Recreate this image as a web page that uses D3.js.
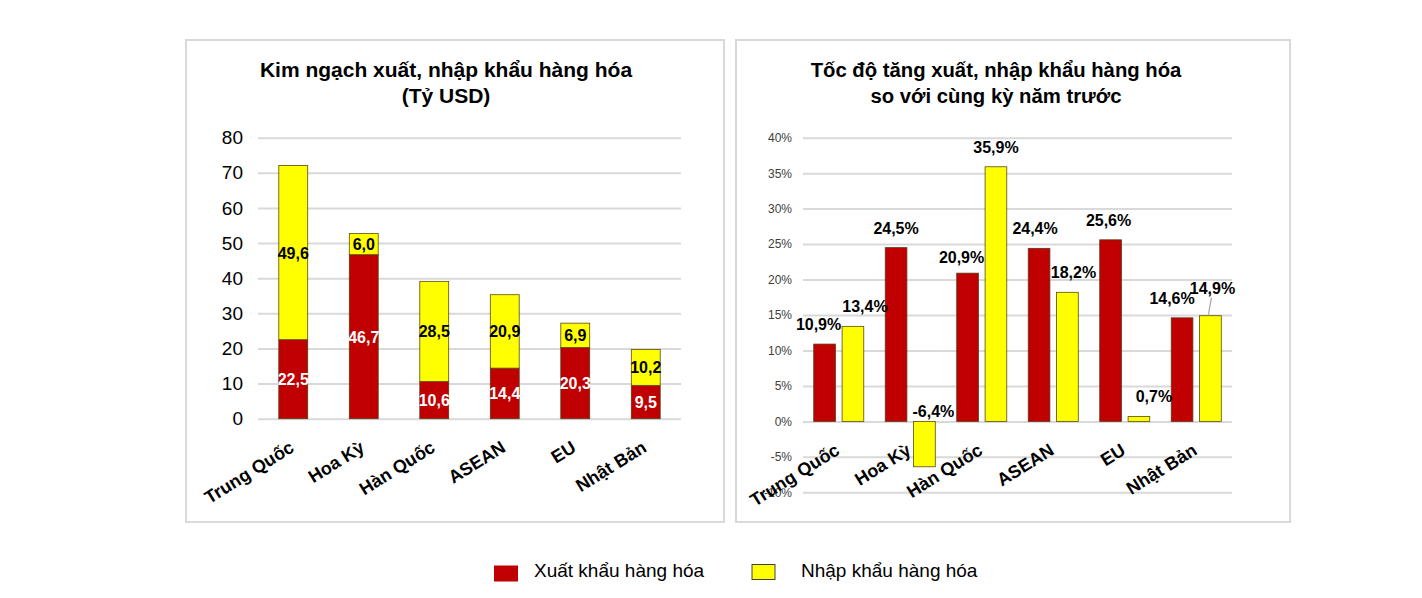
<!DOCTYPE html>
<html><head><meta charset="utf-8">
<script src="https://cdn.jsdelivr.net/npm/d3@7"></script>
<style>body{margin:0;background:#fff;} text{font-family:"Liberation Sans",Arial,sans-serif;}</style>
</head><body><svg id="c" width="1422" height="598"></svg>
<script>
const categories = ["Trung Quốc","Hoa Kỳ","Hàn Quốc","ASEAN","EU","Nhật Bản"];
const exportValue = [22.5,46.7,10.6,14.4,20.3,9.5];
const importValue = [49.6,6.0,28.5,20.9,6.9,10.2];
const exportGrowth = [10.9,24.5,20.9,24.4,25.6,14.6];
const importGrowth = [13.4,-6.4,35.9,18.2,0.7,14.9];
const leftTicks = [0,10,20,30,40,50,60,70,80];
const rightTicks = [-10,-5,0,5,10,15,20,25,30,35,40];
const seriesNames = ["Xuất khẩu hàng hóa","Nhập khẩu hàng hóa"];
const leftTitle = ["Kim ngạch xuất, nhập khẩu hàng hóa","(Tỷ USD)"];
const rightTitle = ["Tốc độ tăng xuất, nhập khẩu hàng hóa","so với cùng kỳ năm trước"];
// label nudges (layout only)
const expNudge = [[-6,0],[0,0],[-6,4],[-4,0],[-2,0],[-10,0]];
const impNudge = [[12,0],[9,0],[0,0],[6,0],[15,0],[2,-8]];

const RED="#C00000", YEL="#FFFF00";
const svg = d3.select("#c");
svg.append("rect").attr("width",1422).attr("height",598).attr("fill","#fff");
// panels
svg.append("rect").attr("x",186).attr("y",40).attr("width",538).attr("height",482).attr("fill","none").attr("stroke","#d9d9d9").attr("stroke-width",2);
svg.append("rect").attr("x",736).attr("y",40).attr("width",554).attr("height",482).attr("fill","none").attr("stroke","#d9d9d9").attr("stroke-width",2);

function title(lines, cx, fs){
  lines.forEach((t,i)=>svg.append("text").attr("x",cx).attr("y",77+i*26).attr("text-anchor","middle")
    .attr("font-size",fs).attr("font-weight","bold").attr("fill","#000").text(t));
}
title(leftTitle,446,21);
title(rightTitle,996,20.3);

// ---------- LEFT ----------
const xL = d3.scaleBand().domain(categories).range([258,681]).paddingInner(0.59).paddingOuter(0.295);
const yL = d3.scaleLinear().domain([0,80]).range([418.7,137.7]);
const gL = svg.append("g");
gL.append("g").attr("transform","translate(258,0)")
  .call(d3.axisLeft(yL).tickValues(leftTicks).tickSize(-423).tickFormat(d3.format("d")))
  .call(g=>g.select(".domain").remove())
  .call(g=>g.selectAll("line").attr("stroke","#d9d9d9").attr("stroke-width",2))
  .call(g=>g.selectAll("text").attr("x",-15).attr("font-size",19).attr("fill","#000").attr("font-family","Liberation Sans, Arial"));
const stackData = categories.map((c,i)=>({c, e:exportValue[i], m:importValue[i]}));
gL.selectAll(".be").data(stackData).join("rect")
  .attr("x",d=>xL(d.c)).attr("width",xL.bandwidth())
  .attr("y",d=>yL(d.e)).attr("height",d=>yL(0)-yL(d.e))
  .attr("fill",RED).attr("stroke","#5a3a1a").attr("stroke-width",0.8);
gL.selectAll(".bm").data(stackData).join("rect")
  .attr("x",d=>xL(d.c)).attr("width",xL.bandwidth())
  .attr("y",d=>yL(d.e+d.m)).attr("height",d=>yL(d.e)-yL(d.e+d.m))
  .attr("fill",YEL).attr("stroke","#5a4a10").attr("stroke-width",0.8);
const fmt1 = v=>d3.format(".1f")(v).replace(".",",").replace("\u2212","-");
gL.selectAll(".le").data(stackData).join("text")
  .attr("x",d=>xL(d.c)+xL.bandwidth()/2).attr("y",d=>yL(d.e/2)+6)
  .attr("text-anchor","middle").attr("font-size",16).attr("font-weight","bold").attr("fill","#fff")
  .text(d=>fmt1(d.e));
gL.selectAll(".lm").data(stackData).join("text")
  .attr("x",d=>xL(d.c)+xL.bandwidth()/2).attr("y",d=>yL(d.e+d.m/2)+6)
  .attr("text-anchor","middle").attr("font-size",16).attr("font-weight","bold").attr("fill","#000")
  .text(d=>fmt1(d.m));
gL.selectAll(".xl").data(categories).join("text")
  .attr("transform",d=>`translate(${xL(d)+xL.bandwidth()/2+2},${yL(0)+32}) rotate(-32)`)
  .attr("text-anchor","end").attr("font-size",18).attr("font-weight","bold").attr("fill","#000").text(d=>d);

// ---------- RIGHT ----------
const x0 = d3.scaleBand().domain(categories).range([803,1232]).paddingInner(0.30).paddingOuter(0.15);
const x1 = d3.scaleBand().domain(["e","m"]).range([0,x0.bandwidth()]).paddingInner(0.236);
const yR = d3.scaleLinear().domain([-10,40]).range([492.3,137.7]);
const gR = svg.append("g");
gR.append("g").attr("transform","translate(803,0)")
  .call(d3.axisLeft(yR).tickValues(rightTicks).tickSize(-429).tickFormat(d=>d+"%"))
  .call(g=>g.select(".domain").remove())
  .call(g=>g.selectAll("line").attr("stroke","#d9d9d9").attr("stroke-width",2))
  .call(g=>g.selectAll("text").attr("x",-11).attr("font-size",12).attr("fill","#404040").attr("font-family","Liberation Sans, Arial"));
const gd = categories.map((c,i)=>({c,i,e:exportGrowth[i],m:importGrowth[i]}));
gR.selectAll(".re").data(gd).join("rect")
  .attr("x",d=>x0(d.c)+x1("e")).attr("width",x1.bandwidth())
  .attr("y",d=>yR(Math.max(0,d.e))).attr("height",d=>Math.abs(yR(d.e)-yR(0)))
  .attr("fill",RED).attr("stroke","#5a3a1a").attr("stroke-width",0.8);
gR.selectAll(".rm").data(gd).join("rect")
  .attr("x",d=>x0(d.c)+x1("m")).attr("width",x1.bandwidth())
  .attr("y",d=>yR(Math.max(0,d.m))).attr("height",d=>Math.abs(yR(d.m)-yR(0)))
  .attr("fill",YEL).attr("stroke","#5a4a10").attr("stroke-width",0.8);
const pct = v=>fmt1(v)+"%";
gR.selectAll(".lre").data(gd).join("text")
  .attr("x",d=>x0(d.c)+x1("e")+x1.bandwidth()/2+expNudge[d.i][0])
  .attr("y",d=>yR(Math.max(0,d.e))-14+expNudge[d.i][1])
  .attr("text-anchor","middle").attr("font-size",16).attr("font-weight","bold").attr("fill","#000").text(d=>pct(d.e));
gR.selectAll(".lrm").data(gd).join("text")
  .attr("x",d=>x0(d.c)+x1("m")+x1.bandwidth()/2+impNudge[d.i][0])
  .attr("y",d=>(d.m<0? yR(0)-4 : yR(d.m)-14)+impNudge[d.i][1])
  .attr("text-anchor","middle").attr("font-size",16).attr("font-weight","bold").attr("fill","#000").text(d=>pct(d.m));
// leader line for last import label
const li = 5;
gR.append("line")
  .attr("x1",x0(categories[li])+x1("m")+x1.bandwidth()/2-2).attr("y1",yR(importGrowth[li])-1)
  .attr("x2",x0(categories[li])+x1("m")+x1.bandwidth()/2+1).attr("y2",yR(importGrowth[li])-18)
  .attr("stroke","#a6a6a6").attr("stroke-width",1.2);
gR.selectAll(".xr").data(categories).join("text")
  .attr("transform",d=>`translate(${x0(d)+x0.bandwidth()/2+2},${yR(0)+32}) rotate(-32)`)
  .attr("text-anchor","end").attr("font-size",18).attr("font-weight","bold").attr("fill","#000").text(d=>d);

// ---------- LEGEND ----------
const leg = svg.append("g");
const legX = [494,752];
seriesNames.forEach((s,i)=>{
  leg.append("rect").attr("x",legX[i]).attr("y",i?564.5:565.5).attr("width",i?23:24).attr("height",i?15:16)
    .attr("fill",i?YEL:RED).attr("stroke",i?"#404040":"none").attr("stroke-width",1);
  leg.append("text").attr("x",legX[i]+(i?49:40)).attr("y",577).attr("font-size",19).attr("fill","#000").text(s);
});
</script></body></html>
